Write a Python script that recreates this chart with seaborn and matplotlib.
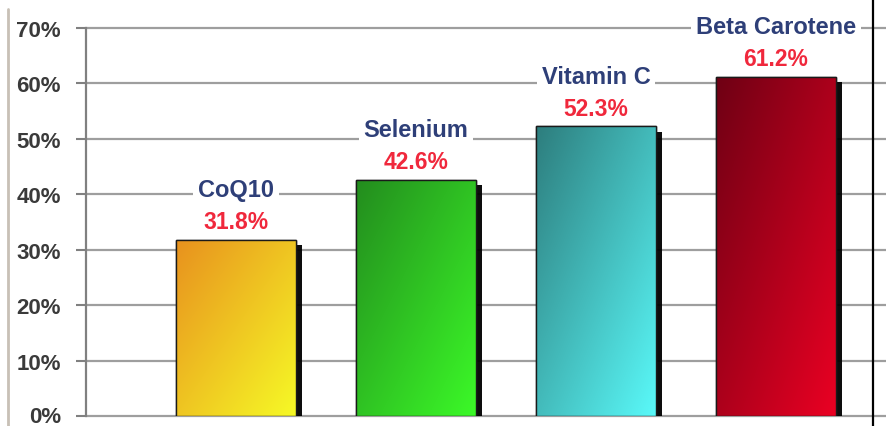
import numpy as np
import pandas as pd
import matplotlib
matplotlib.use("Agg")
import matplotlib.pyplot as plt
import matplotlib.patheffects as pe
import matplotlib.transforms as mtransforms
from matplotlib.colors import to_rgb
from matplotlib.lines import Line2D
import seaborn as sns

# Data
nutrients = ["CoQ10", "Selenium", "Vitamin C", "Beta Carotene"]
percent = [31.8, 42.6, 52.3, 61.2]
y_ticks = [0, 10, 20, 30, 40, 50, 60, 70]
y_tick_labels = ["0%", "10%", "20%", "30%", "40%", "50%", "60%", "70%"]

# Gradient colours per bar: (top-left, bottom-right)
grad_start = ["#E8911E", "#238C1E", "#2D7D7D", "#6E0014"]
grad_end = ["#F6FA26", "#3CFA28", "#5AFAFA", "#EB0023"]

sns.set_theme(style="white")
plt.rcParams["font.family"] = ["Liberation Sans", "DejaVu Sans"]

W, H, DPI = 887, 427, 100
fig = plt.figure(figsize=(W / DPI, H / DPI), dpi=DPI, facecolor="white")
ax = fig.add_axes([86 / W, 10 / H, (W - 86) / W, 388 / H])
ax.set_facecolor("white")

df = pd.DataFrame({"nutrient": nutrients, "percent": percent})
sns.barplot(data=df, x="nutrient", y="percent", hue="nutrient",
            palette=grad_end, width=0.667, legend=False, ax=ax,
            edgecolor="#1a1a1a", linewidth=1.0, zorder=3)

ax.set_ylim(0, 70)
ax.set_xlim(-0.8333, 3.6167)

# Gridlines
for yv in y_ticks:
    ax.axhline(yv, color="#9E9E9E", lw=1.6, zorder=1, clip_on=False)

# Gradient fill and drop shadow on each bar
n = 200
u, v = np.meshgrid(np.linspace(0, 1, n), np.linspace(0, 1, n))
t = (u + v) / 2.0
t = (t - t.min()) / (t.max() - t.min())
for patch, c0, c1 in zip(ax.patches, grad_start, grad_end):
    patch.set_path_effects([
        pe.SimplePatchShadow(offset=(4, -4), shadow_rgbFace="black", alpha=0.95),
        pe.Normal(),
    ])
    a, b = np.array(to_rgb(c0)), np.array(to_rgb(c1))
    img = a[None, None, :] * (1 - t[..., None]) + b[None, None, :] * t[..., None]
    x0, y0 = patch.get_x(), patch.get_y()
    w, h = patch.get_width(), patch.get_height()
    im = ax.imshow(img, extent=[x0, x0 + w, y0, y0 + h], origin="upper",
                   aspect="auto", zorder=3.5, interpolation="bilinear")
    im.set_clip_path(patch)
    edge = plt.Rectangle((x0, y0), w, h, fill=False, ec="#1a1a1a", lw=1.0, zorder=4)
    ax.add_patch(edge)

ax.set_xlim(-0.8333, 3.6167)
ax.set_ylim(0, 70)

# Labels above bars
for i, (name, val) in enumerate(zip(nutrients, percent)):
    ax.annotate(f"{val:.1f}%", xy=(i, val), xytext=(0, 18),
                textcoords="offset pixels", ha="center", va="center",
                fontsize=16.5, fontweight="bold", color="#F0283C",
                zorder=6, annotation_clip=False)
    ax.annotate(name, xy=(i, val), xytext=(0, 50),
                textcoords="offset pixels", ha="center", va="center",
                fontsize=17, fontweight="bold", color="#2E3F78",
                zorder=6, annotation_clip=False,
                bbox=dict(boxstyle="square,pad=0.2", fc="white", ec="none"))

# Axes styling
ax.set_xticks([])
ax.set_xlabel("")
ax.set_ylabel("")
ax.set_yticks(y_ticks)
ax.set_yticklabels(y_tick_labels, fontsize=16, fontweight="bold", color="#3A3A3A")
ax.tick_params(axis="y", left=True, length=7, width=1.5, color="#808080", pad=11)
# keep the bottom tick label inside the canvas
lbl0 = ax.get_yticklabels()[0]
lbl0.set_transform(lbl0.get_transform() +
                   mtransforms.ScaledTranslation(0, 2 / DPI, fig.dpi_scale_trans))
for side in ["top", "right", "bottom"]:
    ax.spines[side].set_visible(False)
ax.spines["left"].set_color("#808080")
ax.spines["left"].set_linewidth(1.6)
ax.spines["left"].set_zorder(2)

# Frame lines of the figure
fig.add_artist(Line2D([8.5 / W, 8.5 / W], [0, 1 - 10 / H], transform=fig.transFigure,
                      color="#C8C0B6", lw=2))
fig.add_artist(Line2D([873 / W, 873 / W], [0, 1], transform=fig.transFigure,
                      color="black", lw=1.6))

fig.savefig("out.png", dpi=DPI, facecolor="white")
